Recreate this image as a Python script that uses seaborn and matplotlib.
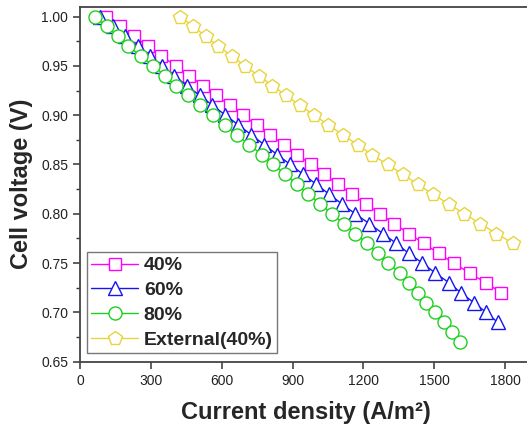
import numpy as np
import pandas as pd
import seaborn as sns
import matplotlib
matplotlib.use('Agg')
import matplotlib.pyplot as plt
from matplotlib.ticker import MultipleLocator

# voltage steps of 0.01 V
v40 = [1.00, 0.99, 0.98, 0.97, 0.96, 0.95, 0.94, 0.93, 0.92, 0.91, 0.90, 0.89, 0.88, 0.87, 0.86,
       0.85, 0.84, 0.83, 0.82, 0.81, 0.80, 0.79, 0.78, 0.77, 0.76, 0.75, 0.74, 0.73, 0.72]
i40 = [110, 170, 228, 286, 345, 405, 462, 520, 577, 634, 691, 748, 806, 863, 920,
       977, 1034, 1092, 1151, 1210, 1270, 1330, 1392, 1455, 1518, 1582, 1650, 1718, 1784]

v60 = [1.00, 0.99, 0.98, 0.97, 0.96, 0.95, 0.94, 0.93, 0.92, 0.91, 0.90, 0.89, 0.88, 0.87, 0.86, 0.85,
       0.84, 0.83, 0.82, 0.81, 0.80, 0.79, 0.78, 0.77, 0.76, 0.75, 0.74, 0.73, 0.72, 0.71, 0.70, 0.69]
i60 = [85, 141, 191, 247, 297, 349, 400, 452, 507, 561, 616, 671, 726, 780, 835, 890,
       945, 1000, 1054, 1109, 1165, 1225, 1282, 1339, 1391, 1450, 1504, 1563, 1612, 1667, 1720, 1768]

v80 = [1.00, 0.99, 0.98, 0.97, 0.96, 0.95, 0.94, 0.93, 0.92, 0.91, 0.90, 0.89, 0.88, 0.87, 0.86, 0.85, 0.84,
       0.83, 0.82, 0.81, 0.80, 0.79, 0.78, 0.77, 0.76, 0.75, 0.74, 0.73, 0.72, 0.71, 0.70, 0.69, 0.68, 0.67]
i80 = [64, 113, 160, 205, 258, 311, 360, 405, 459, 508, 562, 614, 664, 717, 770, 819, 869,
       918, 967, 1017, 1066, 1116, 1165, 1215, 1260, 1306, 1353, 1393, 1431, 1466, 1504, 1540, 1575, 1610]

vext = [1.00, 0.99, 0.98, 0.97, 0.96, 0.95, 0.94, 0.93, 0.92, 0.91, 0.90, 0.89,
        0.88, 0.87, 0.86, 0.85, 0.84, 0.83, 0.82, 0.81, 0.80, 0.79, 0.78, 0.77]
iext = [424, 480, 532, 586, 643, 699, 756, 815, 872, 932, 992, 1052,
        1113, 1175, 1236, 1302, 1368, 1429, 1494, 1561, 1627, 1695, 1763, 1833]

labels = ['40%', '60%', '80%', 'External(40%)']
colors = ['#FF00FF', '#1515F0', '#1ED01E', '#E8D43C']
markers = ['s', '^', 'o', 'p']
msizes = [8.6, 10, 9.4, 10]

sns.set_style('ticks')
plt.rcParams['font.family'] = ['Liberation Sans', 'DejaVu Sans']

fig = plt.figure(figsize=(5.27, 4.30), dpi=100)
ax = fig.add_axes([0.1518, 0.1588, 0.856, 0.8256])

series = [(i40, v40), (i60, v60), (i80, v80), (iext, vext)]
for (x, y), lab, c, m, s in zip(series, labels, colors, markers, msizes):
    df = pd.DataFrame({'current': x, 'voltage': y})
    sns.lineplot(data=df, x='current', y='voltage', ax=ax, color=c, marker=m,
                 ms=s, mec=c, mfc='white', mew=1.0, lw=1.0, label=lab,
                 errorbar=None, sort=False)

ax.set_xlim(0, 1910)
ax.set_ylim(0.65, 1.01)
ax.xaxis.set_major_locator(MultipleLocator(300))
ax.yaxis.set_major_locator(MultipleLocator(0.05))
ax.yaxis.set_minor_locator(MultipleLocator(0.025))
ax.yaxis.set_major_formatter(matplotlib.ticker.FormatStrFormatter('%.2f'))
ax.tick_params(axis='both', which='major', direction='out', length=5, width=1.1,
               labelsize=10, color='#333333', labelcolor='#222222')
ax.tick_params(axis='y', which='minor', direction='out', length=3, width=1.0, color='#333333')
for sp in ax.spines.values():
    sp.set_color('#444444')
    sp.set_linewidth(1.3)

ax.set_xlabel('Current density (A/m²)', fontsize=17, fontweight='bold', labelpad=10)
ax.set_ylabel('Cell voltage (V)', fontsize=17, fontweight='bold', labelpad=6)

leg = ax.legend(loc='lower left', bbox_to_anchor=(0.0156, 0.0245), borderaxespad=0,
                frameon=True, fancybox=False, edgecolor='#777777', framealpha=1,
                handlelength=2.4, handletextpad=0.3, labelspacing=0.37, borderpad=0.22,
                prop={'weight': 'bold', 'size': 14})
leg.get_frame().set_linewidth(1.0)

fig.savefig('out.png', dpi=100)
